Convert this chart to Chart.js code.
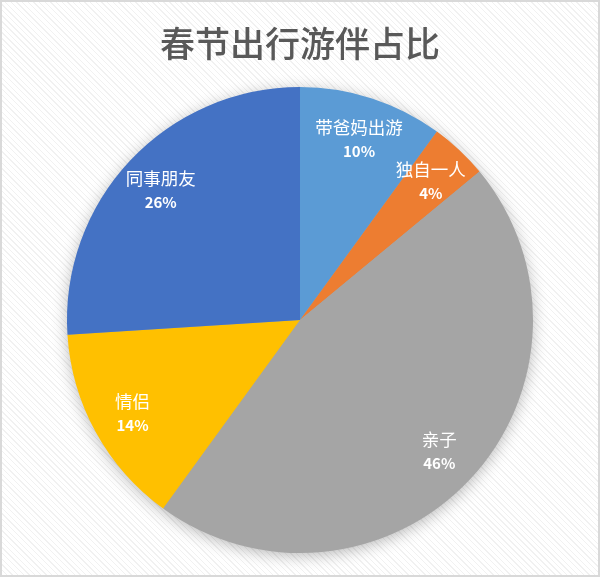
<!DOCTYPE html>
<html>
<head>
<meta charset="utf-8">
<script src="https://cdn.jsdelivr.net/npm/chart.js@4/dist/chart.umd.min.js"></script>
<style>
  html, body { margin: 0; padding: 0; background: #fff; }
  #wrap {
    width: 600px; height: 577px; box-sizing: border-box;
    border: 2px solid #d9d9d9;
    background: repeating-linear-gradient(45deg, #ffffff 0px, #ffffff 3px, #f1f1f1 3px, #f1f1f1 4px);
    position: relative;
  }
  #wrap canvas { position: absolute; left: -2px; top: -2px; }
</style>
</head>
<body>
<div id="wrap"><canvas id="chart" width="600" height="577"></canvas></div>
<script>
const categories = ["带爸妈出游", "独自一人", "亲子", "情侣", "同事朋友"];
const shares = [10, 4, 46, 14, 26];
const colors = ["#5B9BD5", "#ED7D31", "#A5A5A5", "#FFC000", "#4472C4"];

const CJK = '"Noto Sans CJK SC", "Microsoft YaHei", sans-serif';

// soft shadow under the whole pie
const pieShadow = {
    id: "pieShadow",
    beforeDatasetsDraw(chart) {
        const arc = chart.getDatasetMeta(0).data[0];
        if (!arc) return;
        const { x, y, outerRadius } = arc.getProps(["x", "y", "outerRadius"], true);
        const ctx = chart.ctx;
        ctx.save();
        ctx.shadowColor = "rgba(0,0,0,0.3)";
        ctx.shadowBlur = 16;
        ctx.shadowOffsetY = 3;
        ctx.fillStyle = "#a5a5a5";
        ctx.beginPath();
        ctx.arc(x, y, outerRadius - 1, 0, Math.PI * 2);
        ctx.fill();
        ctx.restore();
    }
};

// category name + percent inside each slice
const sliceLabels = {
    id: "sliceLabels",
    afterDatasetsDraw(chart) {
        const ctx = chart.ctx;
        const meta = chart.getDatasetMeta(0);
        meta.data.forEach((arc, i) => {
            const p = arc.getProps(["x", "y", "startAngle", "endAngle", "outerRadius"], true);
            const mid = (p.startAngle + p.endAngle) / 2;
            const r = p.outerRadius * 0.82;
            const cx = p.x + Math.cos(mid) * r;
            const cy = p.y + Math.sin(mid) * r;
            ctx.save();
            ctx.fillStyle = "#ffffff";
            ctx.textAlign = "center";
            ctx.textBaseline = "middle";
            ctx.font = "17.5px " + CJK;
            ctx.fillText(categories[i], cx, cy - 11);
            ctx.font = "bold 15px " + CJK;
            ctx.fillText(shares[i] + "%", cx, cy + 13);
            ctx.restore();
        });
    }
};

new Chart(document.getElementById("chart"), {
    type: "pie",
    data: {
        labels: categories,
        datasets: [{
            data: shares,
            backgroundColor: colors,
            borderWidth: 0
        }]
    },
    options: {
        responsive: false,
        animation: false,
        layout: { padding: { bottom: 24 } },
        plugins: {
            legend: { display: false },
            tooltip: { enabled: false },
            title: {
                display: true,
                text: "春节出行游伴占比",
                color: "#595959",
                font: { family: CJK, size: 35, weight: "500" },
                padding: { top: 23, bottom: 22 }
            }
        }
    },
    plugins: [pieShadow, sliceLabels]
});
</script>
</body>
</html>
